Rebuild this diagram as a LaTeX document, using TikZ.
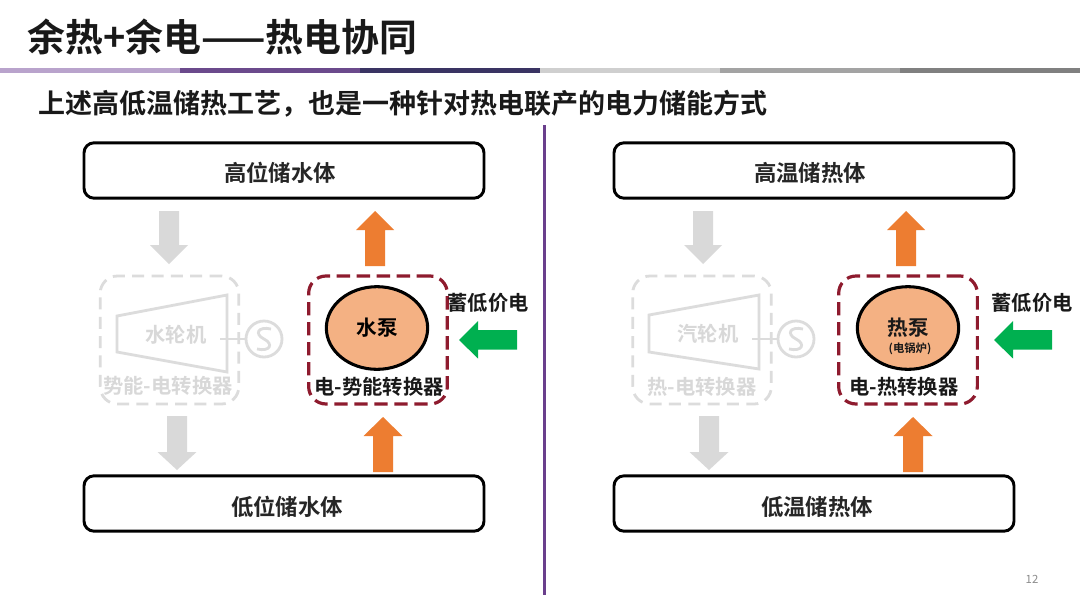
\documentclass[tikz,border=0pt]{standalone}
\usepackage{fontspec}
\setmainfont{Noto Sans CJK SC}[BoldFont={Noto Sans CJK SC Bold}]
\usetikzlibrary{shapes.geometric}
\definecolor{ghost}{HTML}{DCDCDC}
\definecolor{ghosttxt}{HTML}{D8D8D8}
\definecolor{arrgray}{HTML}{D9D9D9}
\definecolor{orangea}{HTML}{ED7D31}
\definecolor{greena}{HTML}{00B050}
\definecolor{pump}{HTML}{F4B183}
\definecolor{wine}{HTML}{8E1B2E}
\definecolor{divider}{HTML}{6A3F8C}
\definecolor{barA}{HTML}{B9A3CC}
\definecolor{barB}{HTML}{6B4A8C}
\definecolor{barC}{HTML}{3A3463}
\definecolor{barD}{HTML}{CFCFCF}
\definecolor{barE}{HTML}{A3A3A3}
\definecolor{barF}{HTML}{808080}
\newcommand{\blockup}[7]{% colour, cx, tip y, head base y, bottom y, half head, half shaft
  \fill[#1] ({#2},{#3}) -- ({#2+#6},{#4}) -- ({#2+#7},{#4}) -- ({#2+#7},{#5}) -- ({#2-#7},{#5}) -- ({#2-#7},{#4}) -- ({#2-#6},{#4}) -- cycle;}
\newcommand{\greenleft}[2]{% tip x, right x
  \fill[greena] ({#1},340) -- ({#1+19},321) -- ({#1+19},330) -- ({#2},330) -- ({#2},349.5) -- ({#1+19},349.5) -- ({#1+19},358.5) -- cycle;}
\tikzset{
  store/.style={draw=black,line width=2.2pt,rounded corners=7.5pt,fill=white,minimum width=300pt,minimum height=41.5pt,inner sep=0pt},
  storetext/.style={inner sep=0pt,font=\bfseries\fontsize{16.8}{20}\selectfont,text=black!85},
  ghostbox/.style={draw=ghost,line width=2.1pt,dash pattern=on 9pt off 5.5pt,rounded corners=13pt,minimum width=104pt,minimum height=96pt,inner sep=0pt},
  redbox/.style={draw=wine,line width=2.4pt,dash pattern=on 10pt off 5pt,rounded corners=13pt,minimum width=104pt,minimum height=96pt,inner sep=0pt},
  pumpnode/.style={ellipse,draw=black,line width=2.3pt,fill=pump,minimum width=76pt,minimum height=62pt,inner sep=0pt},
  ghostline/.style={draw=ghost,line width=2.1pt},
  ghosttext/.style={text=ghosttxt,font=\bfseries\fontsize{15.2}{18}\selectfont,inner sep=0pt},
  blacktext/.style={text=black!90,font=\bfseries\fontsize{15.2}{18}\selectfont,inner sep=0pt},
}
\begin{document}
\begin{tikzpicture}[x=0.75pt,y=-0.75pt]
\useasboundingbox (0,0) rectangle (1080,607);
\fill[white] (0,0) rectangle (1080,607);
% title
\node[anchor=west,inner sep=0pt,font=\bfseries\fontsize{28.4}{32}\selectfont,text=black!90] (title) at (27,37) {余热+余电——热电协同};
\fill[barA] (0,67.5) rectangle (180,73);
\fill[barB] (180,67.5) rectangle (360,73);
\fill[barC] (360,67.5) rectangle (540,73);
\fill[barD] (540,67.5) rectangle (720,73);
\fill[barE] (720,67.5) rectangle (900,73);
\fill[barF] (900,67.5) rectangle (1080,73);
\node[anchor=west,inner sep=0pt,font=\bfseries\fontsize{20.25}{24}\selectfont,text=black!90] (sub) at (38,104) {上述高低温储热工艺，也是一种针对热电联产的电力储能方式};
% divider
\coordinate (dtop) at (544.5,125);
\coordinate (dbot) at (544.5,595);
\draw[divider,line width=2pt] (dtop) -- (dbot);
% stores
\node[store] (hw) at (284,170.5) {};
\node[store] (lw) at (284,503.5) {};
\node[store] (ht) at (814,170.5) {};
\node[store] (lt) at (814,503.5) {};
\node[storetext] (hwt) at (280,173) {高位储水体};
\node[storetext] (lwt) at (287,507) {低位储水体};
\node[storetext] (htt) at (810,173) {高温储热体};
\node[storetext] (ltt) at (817,507) {低温储热体};
% left block arrows
\blockup{arrgray}{169}{264}{245}{211}{19}{10}
\blockup{arrgray}{177}{470}{452}{416}{19.5}{10}
\blockup{orangea}{375}{211}{230}{266}{19}{10}
\blockup{orangea}{383}{417}{436}{472}{19.5}{10}
% right block arrows
\blockup{arrgray}{703}{264}{245}{211}{19}{10}
\blockup{arrgray}{709}{470}{452}{416}{19.5}{10}
\blockup{orangea}{906}{211}{230}{266}{19}{10}
\blockup{orangea}{913}{417}{436}{472}{19.5}{10}
% left ghost
\node[ghostbox] (lg) at (169.5,340) {};
\draw[ghostline] (117,316) -- (227,295) -- (227,372) -- (117,352) -- cycle;
\node[ghosttext] (lgt) at (176,335) {水轮机};
\node[ghosttext] (lgl) at (168,386) {势能-电转换器};
\node[circle,ghostline,minimum size=27pt,inner sep=0pt] (lgen) at (264,339) {};
\coordinate (lshaft) at (220,339);
\draw[ghostline] (lshaft) -- (lgen);
\draw[ghostline] (271,329) .. controls (258,326) and (254,334) .. (264,339) .. controls (274,344) and (270,352) .. (257,349);
% left pump
\node[redbox] (lr) at (378,340) {};
\node[pumpnode] (lp) at (377,328) {\bfseries\fontsize{15.5}{18}\selectfont 水泵};
\node[blacktext] (lrl) at (379,387) {电-势能转换器};
\node[blacktext] (lc) at (488,303) {蓄低价电};
\greenleft{459}{517}
% right ghost
\node[ghostbox] (rg) at (702,340) {};
\draw[ghostline] (649,315) -- (759,295) -- (759,369) -- (649,352) -- cycle;
\node[ghosttext] (rgt) at (708,334) {汽轮机};
\node[ghosttext] (rgl) at (702,387) {热-电转换器};
\node[circle,ghostline,minimum size=27pt,inner sep=0pt] (rgen) at (796,339) {};
\coordinate (rshaft) at (752,339);
\draw[ghostline] (rshaft) -- (rgen);
\draw[ghostline] (803,329) .. controls (790,326) and (786,334) .. (796,339) .. controls (806,344) and (802,352) .. (789,349);
% right pump
\node[redbox] (rr) at (908,340) {};
\node[pumpnode] (rp) at (908,328) {};
\node[inner sep=0pt,font=\bfseries\fontsize{15.5}{18}\selectfont,text=black!90] (rpt) at (908,328) {热泵};
\node[inner sep=0pt,font=\bfseries\fontsize{8.5}{10}\selectfont,text=black!90] (rps) at (910,349) {(电锅炉)};
\node[blacktext] (rrl) at (904,387) {电-热转换器};
\node[blacktext] (rc) at (1032,303) {蓄低价电};
\greenleft{994}{1052}
% page number
\node[inner sep=0pt,text=black!45,font=\fontsize{8.5}{10}\selectfont] (pg) at (1032,579) {12};
\end{tikzpicture}
\end{document}
